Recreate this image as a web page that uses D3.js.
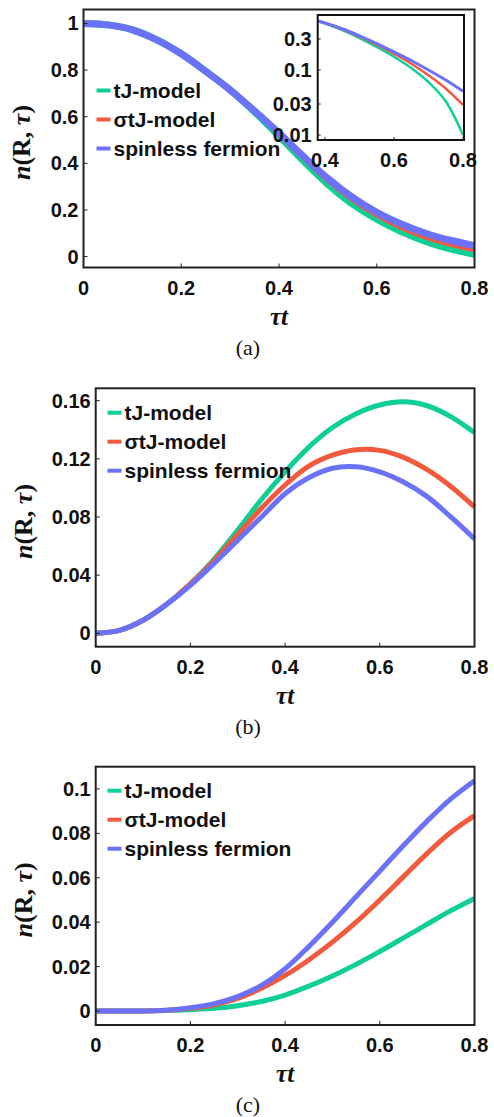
<!DOCTYPE html>
<html>
<head>
<meta charset="utf-8">
<script src="https://cdn.jsdelivr.net/npm/d3@7"></script>
<style>
  body { margin: 0; background: #fff; }
  svg { display: block; }
  .tick-label { font-family: "Liberation Sans", Arial, sans-serif; font-weight: bold; font-size: 20px; fill: #111; }
  .legend-label { font-family: "Liberation Sans", Arial, sans-serif; font-weight: bold; font-size: 21px; fill: #111; }
  .math { font-family: "Liberation Serif", "Times New Roman", serif; fill: #111; }
  .caption { font-family: "Liberation Serif", "Times New Roman", serif; font-size: 22px; fill: #111; }
</style>
</head>
<body>
<div id="chart"></div>
<script>
// time grid (tau * t)
var tau = [0, 0.05, 0.1, 0.15, 0.2, 0.25, 0.3, 0.35, 0.4, 0.45, 0.5, 0.55, 0.6, 0.65, 0.7, 0.75, 0.8];

var seriesNames = ["tJ-model", "\u03c3tJ-model", "spinless fermion"];
var seriesColors = ["#10cf96", "#f25a3e", "#6b72f7"];

// panel (a)
var aTJ       = [1.0, 0.994, 0.973, 0.93, 0.87, 0.795, 0.715, 0.62, 0.517, 0.41, 0.31, 0.226, 0.16, 0.107, 0.065, 0.033, 0.010];
var aSigmaTJ  = [1.0, 0.994, 0.973, 0.93, 0.87, 0.795, 0.715, 0.625, 0.525, 0.423, 0.326, 0.245, 0.178, 0.125, 0.083, 0.052, 0.029];
var aSpinless = [1.0, 0.994, 0.973, 0.93, 0.87, 0.795, 0.715, 0.625, 0.53, 0.43, 0.335, 0.255, 0.19, 0.14, 0.10, 0.07, 0.047];

// panel (b)
var bTJ       = [0, 0.002, 0.009, 0.02, 0.034, 0.051, 0.071, 0.092, 0.111, 0.128, 0.1415, 0.151, 0.157, 0.1592, 0.1565, 0.149, 0.138];
var bSigmaTJ  = [0, 0.002, 0.009, 0.02, 0.034, 0.050, 0.068, 0.086, 0.102, 0.115, 0.1225, 0.1263, 0.1258, 0.121, 0.1125, 0.101, 0.087];
var bSpinless = [0, 0.002, 0.009, 0.02, 0.033, 0.048, 0.064, 0.080, 0.096, 0.107, 0.1135, 0.1145, 0.111, 0.104, 0.094, 0.080, 0.065];

// panel (c)
var cTJ       = [0, 0, 0, 0.0002, 0.0006, 0.0012, 0.0024, 0.0043, 0.0072, 0.0112, 0.0158, 0.021, 0.0268, 0.0329, 0.0391, 0.0452, 0.0507];
var cSigmaTJ  = [0, 0, 0, 0.0003, 0.0012, 0.0028, 0.0057, 0.0102, 0.016, 0.023, 0.031, 0.040, 0.050, 0.0605, 0.071, 0.0805, 0.088];
var cSpinless = [0, 0, 0, 0.0004, 0.0015, 0.0033, 0.0065, 0.0115, 0.019, 0.029, 0.040, 0.0515, 0.063, 0.0745, 0.0855, 0.0955, 0.1037];

// ticks
var xTicks = [0, 0.2, 0.4, 0.6, 0.8];
var xTickLabels = ["0", "0.2", "0.4", "0.6", "0.8"];
var aYTicks = [0, 0.2, 0.4, 0.6, 0.8, 1];
var aYTickLabels = ["0", "0.2", "0.4", "0.6", "0.8", "1"];
var bYTicks = [0, 0.04, 0.08, 0.12, 0.16];
var bYTickLabels = ["0", "0.04", "0.08", "0.12", "0.16"];
var cYTicks = [0, 0.02, 0.04, 0.06, 0.08, 0.1];
var cYTickLabels = ["0", "0.02", "0.04", "0.06", "0.08", "0.1"];
var insetXTicks = [0.4, 0.6, 0.8];
var insetXTickLabels = ["0.4", "0.6", "0.8"];
var insetYTicks = [0.01, 0.03, 0.1, 0.3];
var insetYTickLabels = ["0.01", "0.03", "0.1", "0.3"];

var W = 494, H = 1117;

var svg = d3.select("#chart").append("svg")
    .attr("width", W)
    .attr("height", H);

svg.append("rect").attr("width", W).attr("height", H).attr("fill", "#fff");

var smooth = d3.curveCatmullRom.alpha(0.5);

function drawPanel(p) {
    var g = svg.append("g");

    var x = d3.scaleLinear().domain([0, 0.8]).range([p.left, p.right]);
    var y = d3.scaleLinear().domain(p.yDomain).range([p.bottom, p.top]);

    var line = d3.line()
        .x(function(d) { return x(d[0]); })
        .y(function(d) { return y(d[1]); })
        .curve(smooth);

    // curves
    p.series.forEach(function(s, i) {
        g.append("path")
            .datum(tau.map(function(t, k) { return [t, s[k]]; }))
            .attr("fill", "none")
            .attr("stroke", seriesColors[i])
            .attr("stroke-width", p.widths[i])
            .attr("stroke-linejoin", "round")
            .attr("d", line);
    });

    // frame
    g.append("rect")
        .attr("x", p.left).attr("y", p.top)
        .attr("width", p.right - p.left).attr("height", p.bottom - p.top)
        .attr("fill", "none").attr("stroke", "#222").attr("stroke-width", 2);

    // ticks (inward) + labels
    g.selectAll(".xt").data(xTicks).enter().append("line")
        .attr("x1", function(d) { return x(d); }).attr("x2", function(d) { return x(d); })
        .attr("y1", p.bottom).attr("y2", p.bottom - 4)
        .attr("stroke", "#222").attr("stroke-width", 1);
    g.selectAll(".xl").data(xTicks).enter().append("text")
        .attr("class", "tick-label")
        .attr("x", function(d) { return x(d); })
        .attr("y", p.bottom + 27)
        .attr("text-anchor", "middle")
        .text(function(d, i) { return xTickLabels[i]; });

    g.selectAll(".yt").data(p.yTicks).enter().append("line")
        .attr("x1", p.left).attr("x2", p.left + 4)
        .attr("y1", function(d) { return y(d); }).attr("y2", function(d) { return y(d); })
        .attr("stroke", "#222").attr("stroke-width", 1);
    g.selectAll(".yl").data(p.yTicks).enter().append("text")
        .attr("class", "tick-label")
        .attr("x", p.left - 5)
        .attr("y", function(d) { return y(d) + 7; })
        .attr("text-anchor", "end")
        .text(function(d, i) { return p.yTickLabels[i]; });

    // legend
    seriesNames.forEach(function(name, i) {
        var ly = p.legendY + i * 29;
        g.append("line")
            .attr("x1", p.legendX).attr("x2", p.legendX + 14)
            .attr("y1", ly).attr("y2", ly)
            .attr("stroke", seriesColors[i]).attr("stroke-width", 4);
        g.append("text")
            .attr("class", "legend-label")
            .attr("x", p.legendX + 17)
            .attr("y", ly + 7.5)
            .text(name);
    });

    // axis titles
    var yt = g.append("text")
        .attr("class", "math")
        .attr("font-size", 26)
        .attr("font-weight", "bold")
        .attr("text-anchor", "middle")
        .attr("transform", "translate(" + (p.titleX + 8) + "," + ((p.top + p.bottom) / 2 + 4) + ") rotate(-90)");
    yt.append("tspan").attr("font-style", "italic").text("n");
    yt.append("tspan").text("(R, ");
    yt.append("tspan").attr("font-style", "italic").text("\u03c4");
    yt.append("tspan").text(")");

    g.append("text")
        .attr("class", "math")
        .attr("font-size", 25)
        .attr("font-weight", "bold")
        .attr("font-style", "italic")
        .attr("text-anchor", "middle")
        .attr("x", (p.left + p.right) / 2)
        .attr("y", p.bottom + 57)
        .text("\u03c4t");

    g.append("text")
        .attr("class", "caption")
        .attr("text-anchor", "middle")
        .attr("x", 248)
        .attr("y", p.bottom + 87)
        .text(p.caption);

    return { x: x, y: y, g: g };
}

drawPanel({
    left: 83.5, right: 474.5, top: 9.5, bottom: 267.5,
    yDomain: [-0.047, 1.06],
    yTicks: aYTicks, yTickLabels: aYTickLabels,
    series: [aTJ, aSigmaTJ, aSpinless],
    widths: [7, 5, 7],
    legendX: 96.5, legendY: 90.5,
    titleX: 22,
    caption: "(a)"
});

// inset of panel (a), log scale
(function() {
    var box = { left: 317.7, right: 464, top: 15, bottom: 140 };
    var ix = d3.scaleLinear().domain([0.379, 0.8]).range([box.left, 463]);
    var iy = d3.scaleLog().domain([0.0084, 0.70]).range([box.bottom, box.top]);
    var g = svg.append("g");

    g.append("rect")
        .attr("x", box.left).attr("y", box.top)
        .attr("width", box.right - box.left).attr("height", box.bottom - box.top)
        .attr("fill", "#fff");

    g.append("clipPath").attr("id", "insetClip")
        .append("rect")
        .attr("x", box.left).attr("y", box.top)
        .attr("width", box.right - box.left).attr("height", box.bottom - box.top);

    var line = d3.line()
        .x(function(d) { return ix(d[0]); })
        .y(function(d) { return iy(d[1]); })
        .curve(smooth);

    var widths = [2.5, 2.5, 3];
    [aTJ, aSigmaTJ, aSpinless].forEach(function(s, i) {
        g.append("path")
            .datum(tau.map(function(t, k) { return [t, s[k]]; }).filter(function(d) { return d[0] >= 0.3; }))
            .attr("clip-path", "url(#insetClip)")
            .attr("fill", "none")
            .attr("stroke", seriesColors[i])
            .attr("stroke-width", widths[i])
            .attr("d", line);
    });

    g.append("rect")
        .attr("x", box.left).attr("y", box.top)
        .attr("width", box.right - box.left).attr("height", box.bottom - box.top)
        .attr("fill", "none").attr("stroke", "#111").attr("stroke-width", 2);

    g.selectAll(".ixt").data(insetXTicks).enter().append("line")
        .attr("x1", function(d) { return ix(d); }).attr("x2", function(d) { return ix(d); })
        .attr("y1", box.bottom).attr("y2", box.bottom - 3)
        .attr("stroke", "#222");
    g.selectAll(".ixl").data(insetXTicks).enter().append("text")
        .attr("class", "tick-label")
        .attr("x", function(d) { return ix(d); })
        .attr("y", box.bottom + 27)
        .attr("text-anchor", "middle")
        .text(function(d, i) { return insetXTickLabels[i]; });

    g.selectAll(".iyt").data(insetYTicks).enter().append("line")
        .attr("x1", box.left).attr("x2", box.left + 3)
        .attr("y1", function(d) { return iy(d); }).attr("y2", function(d) { return iy(d); })
        .attr("stroke", "#222");
    g.selectAll(".iyl").data(insetYTicks).enter().append("text")
        .attr("class", "tick-label")
        .attr("x", box.left - 6)
        .attr("y", function(d) { return iy(d) + 7; })
        .attr("text-anchor", "end")
        .text(function(d, i) { return insetYTickLabels[i]; });
})();

drawPanel({
    left: 95.7, right: 474.5, top: 388.3, bottom: 646.7,
    yDomain: [-0.0092, 0.1685],
    yTicks: bYTicks, yTickLabels: bYTickLabels,
    series: [bTJ, bSigmaTJ, bSpinless],
    widths: [5, 5, 5],
    legendX: 107.5, legendY: 412.7,
    titleX: 24,
    caption: "(b)"
});

drawPanel({
    left: 95.7, right: 474.5, top: 766.7, bottom: 1025,
    yDomain: [-0.0063, 0.110],
    yTicks: cYTicks, yTickLabels: cYTickLabels,
    series: [cTJ, cSigmaTJ, cSpinless],
    widths: [5, 5, 5],
    legendX: 107.5, legendY: 790.7,
    titleX: 24,
    caption: "(c)"
});
</script>
</body>
</html>
